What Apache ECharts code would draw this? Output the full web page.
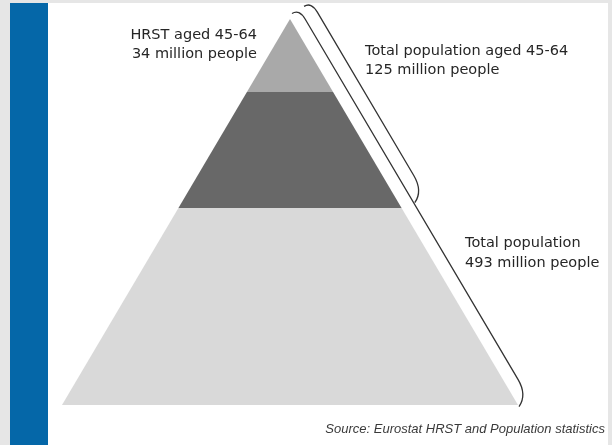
<!DOCTYPE html>
<html>
<head>
<meta charset="utf-8">
<script src="https://cdn.jsdelivr.net/npm/echarts@6/dist/echarts.min.js"></script>
<style>
  html, body { margin: 0; padding: 0; background: #e6e6e6; }
  #chart { width: 612px; height: 445px; }
</style>
</head>
<body>
<div id="chart"></div>
<script>
// ---- data ----
const bandNames = ['HRST aged 45-64', 'Other population aged 45-64', 'Rest of total population'];
// levels as fraction of pyramid height (1 = apex, 0 = base)
const bandTop = [1.0, 0.811, 0.510];
const bandBottom = [0.811, 0.510, 0.0];
const populations = [34, 125, 493]; // million people
const labelTitles = ['HRST aged 45-64', 'Total population aged 45-64', 'Total population'];
// brackets: span of levels they embrace
const bracketFrom = [1.0, 1.0];
const bracketTo = [0.0, 0.510];
const sourceText = 'Source: Eurostat HRST and Population statistics';

// ---- styles ----
const bandColors = ['#a9a9a9', '#686868', '#d9d9d9'];
const bracketOffsets = [13, 27];
const textFont = '14.5px "DejaVu Sans"';
const textColor = '#262626';

const chart = echarts.init(document.getElementById('chart'));

function bracketPath(params, api) {
  const lf = api.value(0), lt = api.value(1);
  const A = api.coord([1 - lf, lf]);
  const B = api.coord([1 - lt, lt]);
  let dx = B[0] - A[0], dy = B[1] - A[1];
  const len = Math.sqrt(dx * dx + dy * dy);
  dx /= len; dy /= len;
  const nx = dy, ny = -dx; // normal pointing outward (right/up)
  const o = bracketOffsets[params.dataIndex];
  const P1 = [A[0] + o * nx, A[1] + o * ny];
  const P2 = [B[0] + o * nx, B[1] + o * ny];
  const pt = (P, a, b) => [P[0] + a * dx + b * nx, P[1] + a * dy + b * ny];
  const S = pt(P1, -3.7, -8.5);
  const Q1 = pt(P1, -4, 0);
  const J1 = pt(P1, 8, 0);
  const J2 = pt(P2, -22, 0);
  const Q2 = pt(P2, -4, 0);
  const E = pt(P2, 2, -13);
  const f = p => p[0].toFixed(2) + ' ' + p[1].toFixed(2);
  const d = 'M ' + f(S) + ' Q ' + f(Q1) + ' ' + f(J1) + ' L ' + f(J2) + ' Q ' + f(Q2) + ' ' + f(E);
  return {
    type: 'path',
    shape: { pathData: d },
    style: { fill: null, stroke: '#333333', lineWidth: 1.3 }
  };
}

const option = {
  backgroundColor: '#e6e6e6',
  animation: false,
  grid: { left: 62, right: 94, top: 19, bottom: 40, containLabel: false },
  xAxis: { type: 'value', min: -1, max: 1, show: false },
  yAxis: { type: 'value', min: 0, max: 1, show: false },
  graphic: [
    { type: 'rect', z: -10, shape: { x: 48, y: 3, width: 560, height: 442 }, style: { fill: '#ffffff' } },
    { type: 'rect', z: -10, shape: { x: 10, y: 3, width: 38, height: 442 }, style: { fill: '#0567a8' } },
    { type: 'text', x: 257, y: 44.5, style: {
        text: labelTitles[0] + '\n' + populations[0] + ' million people',
        font: textFont, fill: textColor, align: 'right', verticalAlign: 'middle', lineHeight: 19 } },
    { type: 'text', x: 365, y: 60.5, style: {
        text: labelTitles[1] + '\n' + populations[1] + ' million people',
        font: textFont, fill: textColor, align: 'left', verticalAlign: 'middle', lineHeight: 19 } },
    { type: 'text', x: 465, y: 253.5, style: {
        text: labelTitles[2] + '\n' + populations[2] + ' million people',
        font: textFont, fill: textColor, align: 'left', verticalAlign: 'middle', lineHeight: 20 } },
    { type: 'text', x: 605, y: 429, style: {
        text: sourceText,
        font: 'italic 13px "Liberation Sans"', fill: '#3a3a3a', align: 'right', verticalAlign: 'middle' } }
  ],
  series: [
    {
      type: 'custom',
      name: 'bands',
      data: bandTop.map((t, i) => ({ name: bandNames[i], value: [t, bandBottom[i]] })),
      renderItem: function (params, api) {
        const top = api.value(0), bot = api.value(1);
        const pts = [
          api.coord([-(1 - bot), bot]),
          api.coord([1 - bot, bot]),
          api.coord([1 - top, top]),
          api.coord([-(1 - top), top])
        ];
        return { type: 'polygon', shape: { points: pts }, style: { fill: bandColors[params.dataIndex] } };
      }
    },
    {
      type: 'custom',
      name: 'brackets',
      data: bracketFrom.map((f, i) => [f, bracketTo[i]]),
      renderItem: bracketPath
    }
  ]
};
chart.setOption(option);
</script>
</body>
</html>
